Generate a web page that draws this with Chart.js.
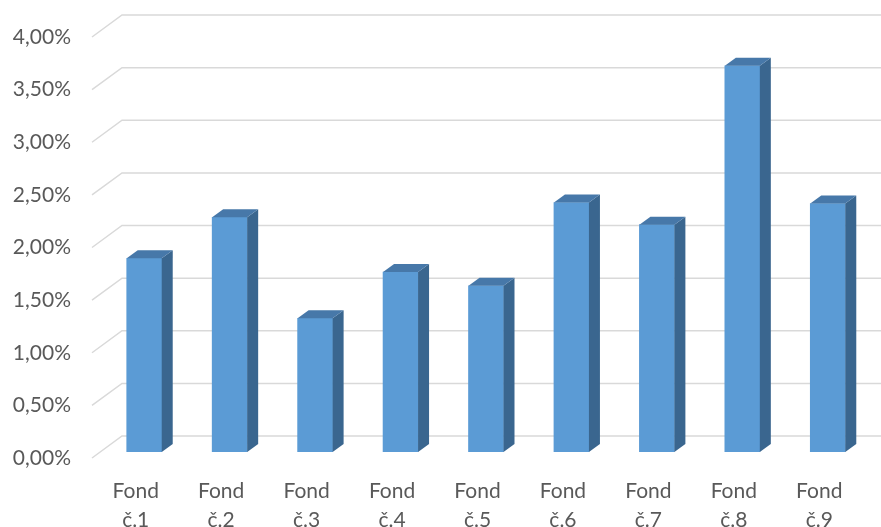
<!DOCTYPE html>
<html>
<head>
<meta charset="utf-8">
<script src="https://cdn.jsdelivr.net/npm/chart.js@4"></script>
<style>
  html, body { margin: 0; padding: 0; background: #fff; }
  #wrap { width: 881px; height: 527px; }
</style>
</head>
<body>
<div id="wrap"><canvas id="myChart" width="881" height="527"></canvas></div>
<script>
// Výnosy fondů (v %)
const categories = [["Fond", "č.1"], ["Fond", "č.2"], ["Fond", "č.3"], ["Fond", "č.4"], ["Fond", "č.5"],
                    ["Fond", "č.6"], ["Fond", "č.7"], ["Fond", "č.8"], ["Fond", "č.9"]];
const values = [1.84, 2.23, 1.27, 1.71, 1.58, 2.37, 2.16, 3.67, 2.36];
const yTicks = [0, 0.5, 1, 1.5, 2, 2.5, 3, 3.5, 4];

// barvy sloupců (čelo, bok, vršek)
const frontColor = "#5B9BD5";
const sideColor = "#3A668F";
const topColor = "#4778A9";
const gridColor = "#D9D9D9";

// hloubka zadní stěny a posun/hloubka sloupců
const wallDx = 30, wallDy = -22;
const barShiftX = 8.5, barShiftY = -6;
const depthX = 11, depthY = -8;

const fakeThreeD = {
  id: "fakeThreeD",
  beforeDatasetsDraw(chart) {
    const ctx = chart.ctx;
    const yScale = chart.scales.y;
    const left = chart.chartArea.left;

    // mřížka s šikmou podlahou k zadní stěně
    ctx.save();
    ctx.strokeStyle = gridColor;
    ctx.lineWidth = 1.5;
    yTicks.forEach(v => {
      const y = yScale.getPixelForValue(v);
      ctx.beginPath();
      ctx.moveTo(left - 1, y);
      ctx.lineTo(left - 1 + wallDx, y + wallDy);
      ctx.lineTo(chart.width, y + wallDy);
      ctx.stroke();
    });
    ctx.restore();

    // sloupce se kreslí posunuté dovnitř grafu
    ctx.save();
    ctx.translate(barShiftX, barShiftY);
  },
  afterDatasetsDraw(chart) {
    const ctx = chart.ctx;
    const meta = chart.getDatasetMeta(0);
    meta.data.forEach(bar => {
      const l = bar.x - bar.width / 2;
      const r = bar.x + bar.width / 2;
      const t = bar.y;
      const b = bar.base;

      // bok
      ctx.fillStyle = sideColor;
      ctx.beginPath();
      ctx.moveTo(r, t);
      ctx.lineTo(r + depthX, t + depthY);
      ctx.lineTo(r + depthX, b + depthY);
      ctx.lineTo(r, b);
      ctx.closePath();
      ctx.fill();

      // vršek
      ctx.fillStyle = topColor;
      ctx.beginPath();
      ctx.moveTo(l, t);
      ctx.lineTo(l + depthX, t + depthY);
      ctx.lineTo(r + depthX, t + depthY);
      ctx.lineTo(r, t);
      ctx.closePath();
      ctx.fill();
    });
    ctx.restore();
  }
};

new Chart("myChart", {
  type: "bar",
  data: {
    labels: categories,
    datasets: [{
      data: values,
      backgroundColor: frontColor,
      borderWidth: 0,
      barThickness: 35
    }]
  },
  options: {
    responsive: false,
    animation: false,
    layout: { padding: { top: 37, right: 19, left: 0, bottom: 0 } },
    plugins: {
      legend: { display: false },
      tooltip: { enabled: false }
    },
    scales: {
      x: {
        grid: { display: false, drawTicks: false },
        border: { display: false },
        ticks: {
          color: "#595959",
          padding: 19,
          maxRotation: 0,
          font: { family: "Lato", size: 21, lineHeight: 1.38 }
        },
        afterFit(scale) { scale.height = 69; }
      },
      y: {
        min: 0,
        max: 4,
        grid: { display: false, drawTicks: false },
        border: { display: false },
        ticks: {
          stepSize: 0.5,
          color: "#595959",
          padding: 22,
          font: { family: "Lato", size: 21 },
          callback: v => v.toFixed(2).replace(".", ",") + "%"
        },
        afterFit(scale) { scale.width = 93; }
      }
    }
  },
  plugins: [fakeThreeD]
});
</script>
</body>
</html>
